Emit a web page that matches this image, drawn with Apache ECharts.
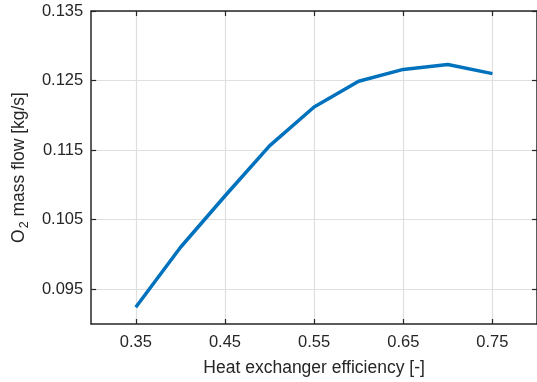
<!DOCTYPE html>
<html>
<head>
<meta charset="utf-8">
<script src="https://cdn.jsdelivr.net/npm/echarts@6/dist/echarts.min.js"></script>
<style>
  html, body { margin: 0; padding: 0; background: #fff; }
  #chart { width: 537px; height: 382px; }
</style>
</head>
<body>
<div id="chart"></div>
<script>
// Heat exchanger efficiency vs. O2 mass flow
const efficiency = [0.35, 0.40, 0.45, 0.50, 0.55, 0.60, 0.65, 0.70, 0.75];
const o2MassFlow = [0.0924, 0.1010, 0.1084, 0.1156, 0.1212, 0.1249, 0.1266, 0.1273, 0.1260];
const xTicks = [0.35, 0.45, 0.55, 0.65, 0.75];
const yTicks = [0.095, 0.105, 0.115, 0.125, 0.135];

const ink = '#262626';
const gridColor = '#dfdfdf';
const font = 'Liberation Sans, Arial, Helvetica, sans-serif';
const tickFont = 16.5;
const nameFont = 17.5;

const chart = echarts.init(document.getElementById('chart'), null, { renderer: 'canvas' });

function tickAxisCommon() {
  return {
    axisLine: { show: true, onZero: false, lineStyle: { color: ink, width: 1.5 } },
    axisTick: { show: true, inside: true, length: 5, lineStyle: { color: ink, width: 1.2 } },
    splitLine: { show: false }
  };
}

const option = {
  animation: false,
  backgroundColor: '#ffffff',
  grid: { left: 89, top: 11, width: 450, height: 314, containLabel: false },
  xAxis: [
    Object.assign(tickAxisCommon(), {
      type: 'value', min: 0.3, max: 0.8, position: 'bottom',
      name: 'Heat exchanger efficiency [-]',
      nameLocation: 'middle', nameGap: 35,
      nameTextStyle: { color: ink, fontSize: nameFont, fontFamily: font },
      axisLabel: {
        show: true, margin: 10, color: ink, fontSize: tickFont, fontFamily: font,
        customValues: xTicks,
        formatter: v => v.toFixed(2)
      },
      axisTick: { show: true, inside: true, length: 5, customValues: xTicks, lineStyle: { color: ink, width: 1.2 } },
      splitLine: { show: true, lineStyle: { color: gridColor, width: 1.2 }, customValues: xTicks }
    }),
    Object.assign(tickAxisCommon(), {
      type: 'value', min: 0.3, max: 0.8, position: 'top',
      axisLabel: { show: false, customValues: xTicks },
      axisTick: { show: true, inside: true, length: 5, customValues: xTicks, lineStyle: { color: ink, width: 1.2 } }
    })
  ],
  yAxis: [
    Object.assign(tickAxisCommon(), {
      type: 'value', min: 0.09, max: 0.135, position: 'left',
      name: '{t|O}{s|2}{t| mass flow [kg/s]}',
      nameLocation: 'middle', nameGap: 56, nameRotate: 90,
      nameTextStyle: {
        color: ink, fontFamily: font,
        rich: {
          t: { fontSize: nameFont, color: ink, fontFamily: font, lineHeight: 20 },
          s: { fontSize: 12.5, color: ink, fontFamily: font, padding: [10, 0, 0, 1], lineHeight: 20 }
        }
      },
      axisLabel: {
        show: true, margin: 8, color: ink, fontSize: tickFont, fontFamily: font,
        customValues: yTicks,
        formatter: v => v.toFixed(3)
      },
      axisTick: { show: true, inside: true, length: 5, customValues: yTicks, lineStyle: { color: ink, width: 1.2 } },
      splitLine: { show: true, lineStyle: { color: gridColor, width: 1.2 }, customValues: yTicks }
    }),
    Object.assign(tickAxisCommon(), {
      type: 'value', min: 0.09, max: 0.135, position: 'right',
      axisLabel: { show: false, customValues: yTicks },
      axisTick: { show: true, inside: true, length: 5, customValues: yTicks, lineStyle: { color: ink, width: 1.2 } }
    })
  ],
  series: [{
    type: 'line',
    xAxisIndex: 0, yAxisIndex: 0,
    data: efficiency.map((e, i) => [e, o2MassFlow[i]]),
    showSymbol: false,
    symbol: 'none',
    lineStyle: { color: '#0072BD', width: 3.5, join: 'round' },
    itemStyle: { color: '#0072BD' }
  }]
};

chart.setOption(option);
</script>
</body>
</html>
